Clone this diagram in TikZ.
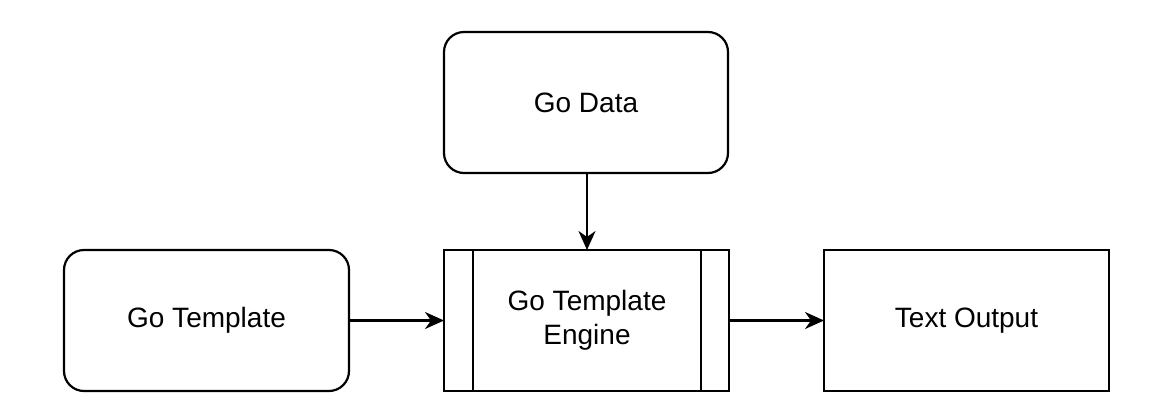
\documentclass[tikz,border=0pt]{standalone}
\usepackage{fontspec}
\setmainfont{Liberation Sans}
\usetikzlibrary{arrows.meta}
\begin{document}
\begin{tikzpicture}[x=1pt,y=-1pt,
  box/.style={draw=black,line width=2.2pt,fill=white,inner sep=0pt},
  rbox/.style={box,rounded corners=20pt},
  lbl/.style={font=\fontsize{28}{34}\selectfont,align=center},
  arr/.style={line width=2.2pt,-{Stealth[length=19pt,width=17pt,inset=6pt]}}]
\useasboundingbox (0,0) rectangle (1150,418);
% Go Data
\draw[rbox] (444,32) rectangle (728,173);
\node[lbl] (data) at (586,102.5) {Go Data};
\coordinate (dataS) at (587,173);
% Go Template
\draw[rbox] (64,250) rectangle (349,391);
\node[lbl] (tmpl) at (206.5,320.5) {Go Template};
\coordinate (tmplE) at (349,320.5);
% Engine
\draw[box] (444,250) rectangle (729,391);
\draw[line width=2.2pt] (473,250) -- (473,391);
\draw[line width=2.2pt] (701,250) -- (701,391);
\node[lbl] (eng) at (587,320.5) {Go Template\\Engine};
\coordinate (engN) at (587,250);
\coordinate (engW) at (444,320.5);
\coordinate (engE) at (729,320.5);
% Text Output
\draw[box] (824,250) rectangle (1109,391);
\node[lbl] (out) at (966.5,320.5) {Text Output};
\coordinate (outW) at (824,320.5);
% arrows
\draw[arr] (dataS) -- (engN);
\draw[arr] (tmplE) -- (engW);
\draw[arr] (engE) -- (outW);
\end{tikzpicture}
\end{document}
